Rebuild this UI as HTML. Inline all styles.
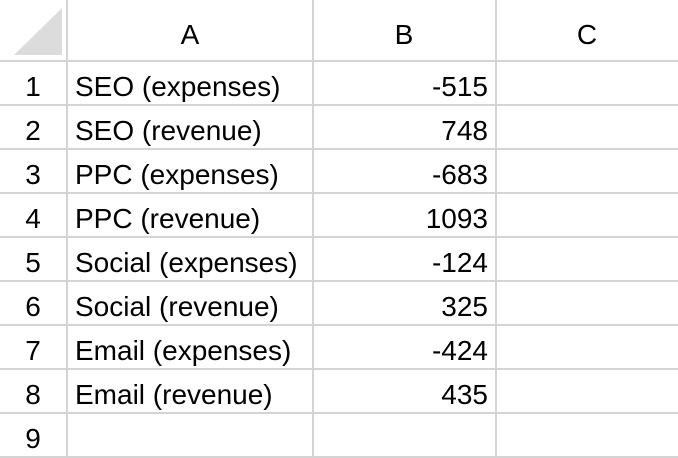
<!DOCTYPE html>
<html><head><meta charset="utf-8"><style>
html,body{margin:0;padding:0;background:#fff;}
svg{display:block;}
text{font-family:"Liberation Sans",sans-serif;font-size:28px;fill:#000;}
</style></head><body>
<svg width="678" height="458" xmlns="http://www.w3.org/2000/svg">
<rect width="678" height="458" fill="#fff"/>
<polygon points="14,55 62,8 62,55" fill="#dcdcdc"/>
<g stroke="#d4d4d4" stroke-width="2">
<line x1="67" y1="0" x2="67" y2="458"/>
<line x1="313" y1="0" x2="313" y2="458"/>
<line x1="496" y1="0" x2="496" y2="458"/>
<line x1="0" y1="61" x2="678" y2="61"/>
<line x1="0" y1="105" x2="678" y2="105"/>
<line x1="0" y1="149" x2="678" y2="149"/>
<line x1="0" y1="193" x2="678" y2="193"/>
<line x1="0" y1="237" x2="678" y2="237"/>
<line x1="0" y1="281" x2="678" y2="281"/>
<line x1="0" y1="325" x2="678" y2="325"/>
<line x1="0" y1="369" x2="678" y2="369"/>
<line x1="0" y1="413" x2="678" y2="413"/>
<line x1="0" y1="457" x2="678" y2="457"/>
</g>
<g text-anchor="middle">
<text x="190" y="44">A</text><text x="404" y="44">B</text><text x="587" y="44">C</text>
<text x="33" y="96">1</text><text x="33" y="140">2</text><text x="33" y="184">3</text>
<text x="33" y="228">4</text><text x="33" y="272">5</text><text x="33" y="316">6</text>
<text x="33" y="360">7</text><text x="33" y="404">8</text><text x="33" y="448">9</text>
</g>
<g>
<text x="75" y="96">SEO (expenses)</text>
<text x="75" y="140">SEO (revenue)</text>
<text x="75" y="184">PPC (expenses)</text>
<text x="75" y="228">PPC (revenue)</text>
<text x="75" y="272">Social (expenses)</text>
<text x="75" y="316">Social (revenue)</text>
<text x="75" y="360">Email (expenses)</text>
<text x="75" y="404">Email (revenue)</text>
</g>
<g text-anchor="end">
<text x="488" y="96">-515</text>
<text x="488" y="140">748</text>
<text x="488" y="184">-683</text>
<text x="488" y="228">1093</text>
<text x="488" y="272">-124</text>
<text x="488" y="316">325</text>
<text x="488" y="360">-424</text>
<text x="488" y="404">435</text>
</g>
</svg>
</body></html>
